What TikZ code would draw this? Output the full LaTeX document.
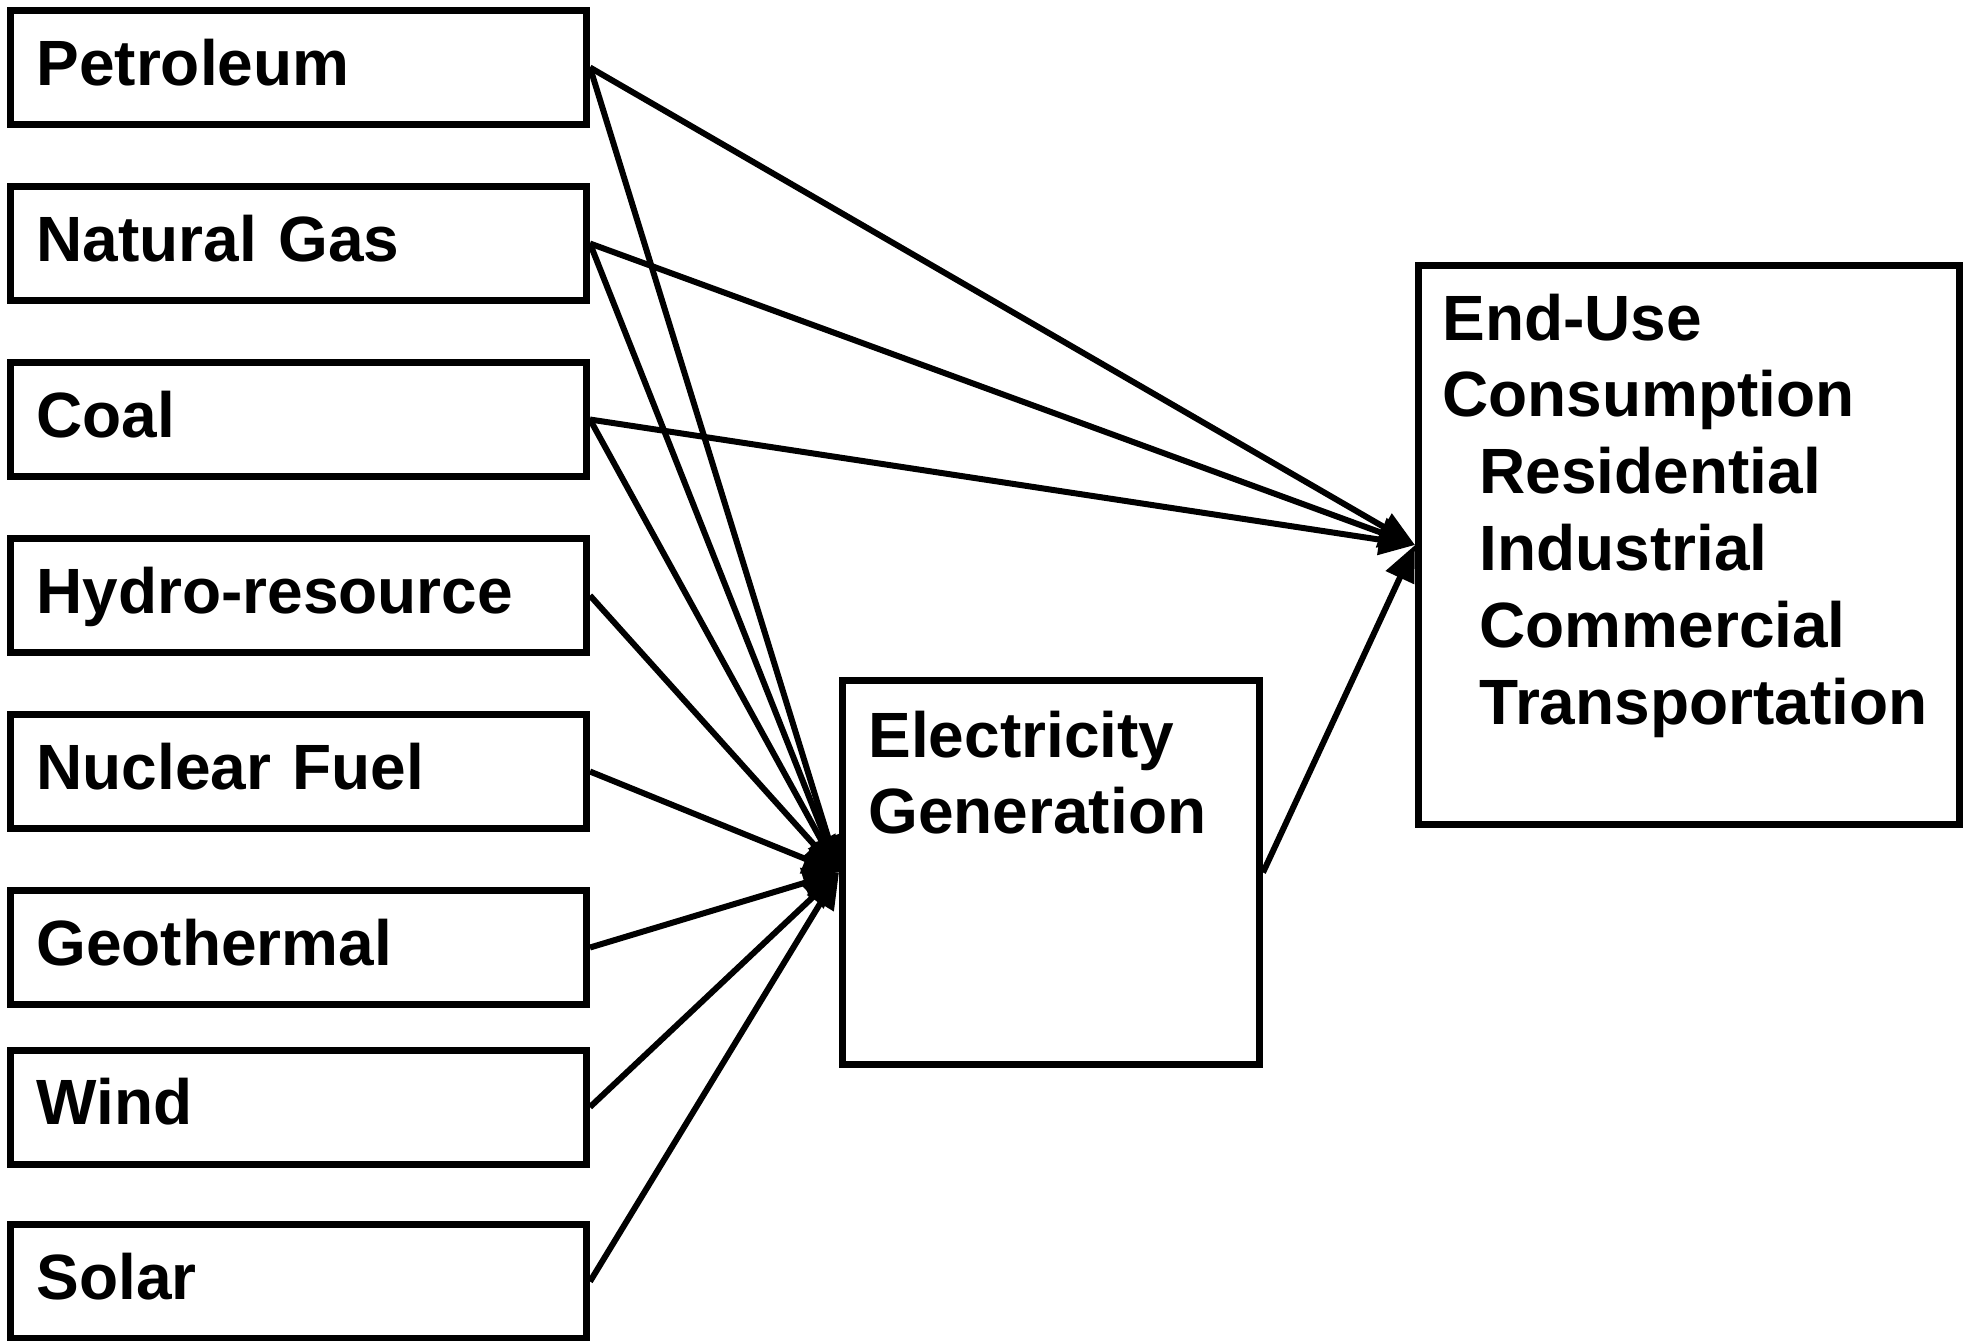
\documentclass[tikz,border=0pt]{standalone}
\usepackage{fontspec}
\setmainfont{Liberation Sans}
\usetikzlibrary{arrows.meta}
\begin{document}
\begin{tikzpicture}[x=0.5pt,y=-0.5pt,
  bigfont/.style={font=\bfseries\fontsize{32pt}{38.4pt}\selectfont},
  srcbox/.style={draw, line width=3.5pt, rectangle, minimum width=288pt, minimum height=57pt,
    text width=262pt, inner xsep=13pt, align=left, text height=23pt, text depth=5.5pt, bigfont},
  bigbox/.style={draw, line width=3.5pt, rectangle, inner sep=0pt},
  boxtext/.style={anchor=base west, inner sep=0pt, bigfont},
  conn/.style={line width=3pt, -{Triangle[length=18pt,width=15pt]}}
]
\useasboundingbox (0,0) rectangle (1973,1340);
\node[srcbox] (pet)  at (298.5,67.5)  {Petroleum};
\node[srcbox] (ng)   at (298.5,243.5) {Natural Gas};
\node[srcbox] (coal) at (298.5,419.5) {Coal};
\node[srcbox] (hyd)  at (298.5,595.5) {Hydro-resource};
\node[srcbox] (nuc)  at (298.5,771.5) {Nuclear Fuel};
\node[srcbox] (geo)  at (298.5,947.5) {Geothermal};
\node[srcbox] (wind) at (298.5,1107)  {Wind};
\node[srcbox] (sol)  at (298.5,1281.5) {Solar};

\node[bigbox, minimum width=208.5pt, minimum height=192pt] (elec) at (1051,872.5) {};
\node[boxtext] (electxt) at (868,757) {\parbox[t]{200pt}{Electricity\\Generation}};

\node[bigbox, minimum width=270.5pt, minimum height=279.5pt] (enduse) at (1689,545) {};
\node[boxtext] (endtxt) at (1442,340) {\parbox[t]{260pt}{End-Use\\Consumption\\
  \hspace*{18.5pt}Residential\\\hspace*{18.5pt}Industrial\\\hspace*{18.5pt}Commercial\\\hspace*{18.5pt}Transportation}};

\draw[conn] (pet.east) -- (enduse.west);
\draw[conn] (ng.east) -- (enduse.west);
\draw[conn] (coal.east) -- (enduse.west);
\draw[conn] (pet.east) -- (elec.west);
\draw[conn] (ng.east) -- (elec.west);
\draw[conn] (coal.east) -- (elec.west);
\draw[conn] (hyd.east) -- (elec.west);
\draw[conn] (nuc.east) -- (elec.west);
\draw[conn] (geo.east) -- (elec.west);
\draw[conn] (wind.east) -- (elec.west);
\draw[conn] (sol.east) -- (elec.west);
\draw[conn] (elec.east) -- (enduse.west);
\end{tikzpicture}
\end{document}
